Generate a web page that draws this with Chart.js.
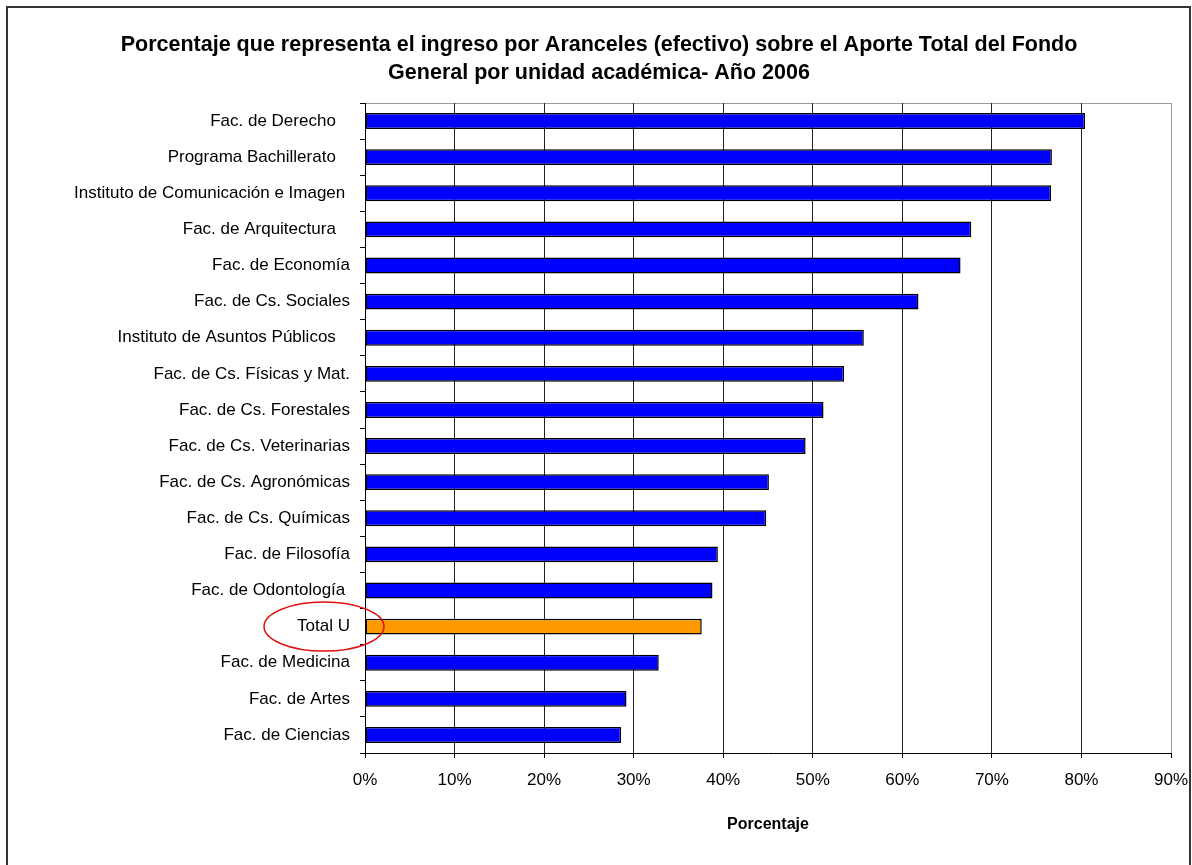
<!DOCTYPE html>
<html>
<head>
<meta charset="utf-8">
<script src="https://cdn.jsdelivr.net/npm/chart.js@4/dist/chart.umd.min.js"></script>
<style>
  body { margin: 0; background: #fff; }
  #wrap { width: 1192px; height: 865px; position: relative; }
</style>
</head>
<body>
<div id="wrap"><canvas id="myChart"></canvas></div>
<script>
const titleLines = [
  'Porcentaje que representa el ingreso por Aranceles (efectivo) sobre el Aporte Total del Fondo',
  'General por unidad académica- Año 2006'
];
const units = [
  'Fac. de Derecho   ',
  'Programa Bachillerato   ',
  'Instituto de Comunicación e Imagen ',
  'Fac. de Arquitectura   ',
  'Fac. de Economía',
  'Fac. de Cs. Sociales',
  'Instituto de Asuntos Públicos   ',
  'Fac. de Cs. Físicas y Mat.',
  'Fac. de Cs. Forestales',
  'Fac. de Cs. Veterinarias',
  'Fac. de Cs. Agronómicas',
  'Fac. de Cs. Químicas',
  'Fac. de Filosofía',
  'Fac. de Odontología ',
  'Total U',
  'Fac. de Medicina',
  'Fac. de Artes',
  'Fac. de Ciencias'
];
const percentages = [80.4, 76.7, 76.6, 67.7, 66.5, 61.8, 55.7, 53.5, 51.2, 49.2, 45.1, 44.8, 39.4, 38.8, 37.6, 32.8, 29.2, 28.6];
const xTicks = [0, 10, 20, 30, 40, 50, 60, 70, 80, 90];
const highlight = 'Total U';

const FONT = '"Liberation Sans", Arial, sans-serif';
const barColors = units.map(u => u.trim() === highlight ? '#FF9900' : '#0000FF');

// frame, chart title, gray plot border and the red circle around "Total U"
const decorations = {
  id: 'decorations',
  beforeDraw(chart) {
    const ctx = chart.ctx;
    ctx.save();
    ctx.fillStyle = '#fff';
    ctx.fillRect(0, 0, chart.width, chart.height);
    ctx.strokeStyle = '#333';
    ctx.lineWidth = 2;
    ctx.strokeRect(7, 7, 1183, chart.height + 20);
    ctx.fillStyle = '#000';
    ctx.font = 'bold 21.5px ' + FONT;
    ctx.textAlign = 'center';
    ctx.textBaseline = 'middle';
    ctx.fillText(titleLines[0], 599, 45);
    ctx.fillText(titleLines[1], 599, 73);
    const a = chart.chartArea;
    ctx.strokeStyle = '#999';
    ctx.lineWidth = 1;
    ctx.beginPath();
    ctx.moveTo(a.left, a.top + 0.5);
    ctx.lineTo(a.right + 0.5, a.top + 0.5);
    ctx.lineTo(a.right + 0.5, a.bottom);
    ctx.stroke();
    ctx.restore();
  },
  afterDraw(chart) {
    const ctx = chart.ctx;
    const idx = units.findIndex(u => u.trim() === highlight);
    const y = chart.scales.y.getPixelForValue(idx);
    const x = chart.chartArea.left - 41;
    ctx.save();
    ctx.strokeStyle = '#E01010';
    ctx.lineWidth = 1.5;
    ctx.beginPath();
    ctx.ellipse(x, y, 60, 24.5, 0, 0, Math.PI * 2);
    ctx.stroke();
    ctx.restore();
  }
};

new Chart(document.getElementById('myChart'), {
  type: 'bar',
  data: {
    labels: units,
    datasets: [{
      data: percentages,
      backgroundColor: barColors,
      borderColor: '#000',
      borderWidth: 1.5,
      borderSkipped: false,
      categoryPercentage: 1,
      barPercentage: 0.44
    }]
  },
  options: {
    indexAxis: 'y',
    responsive: true,
    maintainAspectRatio: false,
    animation: false,
    layout: { padding: { top: 103, right: 21, bottom: 8, left: 0 } },
    plugins: {
      legend: { display: false },
      tooltip: { enabled: false }
    },
    scales: {
      x: {
        min: 0,
        max: 90,
        afterFit(scale) {
          scale.height = 104;
          scale.paddingLeft = 0;
          scale.paddingRight = 0;
        },
        afterBuildTicks(scale) { scale.ticks = xTicks.map(v => ({ value: v })); },
        ticks: {
          color: '#000',
          font: { family: FONT, size: 17 },
          padding: 12,
          callback: v => v + '%'
        },
        grid: {
          color: ctx => ctx.tick && ctx.tick.value === 90 ? '#999' : '#222',
          lineWidth: 1,
          tickLength: 5,
          tickColor: '#000'
        },
        border: { color: '#000', width: 1 },
        title: {
          display: true,
          text: 'Porcentaje',
          color: '#000',
          font: { family: FONT, size: 16, weight: 'bold' },
          padding: { top: 0, bottom: 23 }
        }
      },
      y: {
        afterFit(scale) { scale.width = 365; },
        ticks: {
          color: '#000',
          font: { family: FONT, size: 17 },
          padding: 10,
          autoSkip: false
        },
        grid: {
          display: true,
          drawOnChartArea: false,
          offset: true,
          tickLength: 5,
          tickColor: '#000'
        },
        border: { color: '#000', width: 1 }
      }
    }
  },
  plugins: [decorations]
});
</script>
</body>
</html>
